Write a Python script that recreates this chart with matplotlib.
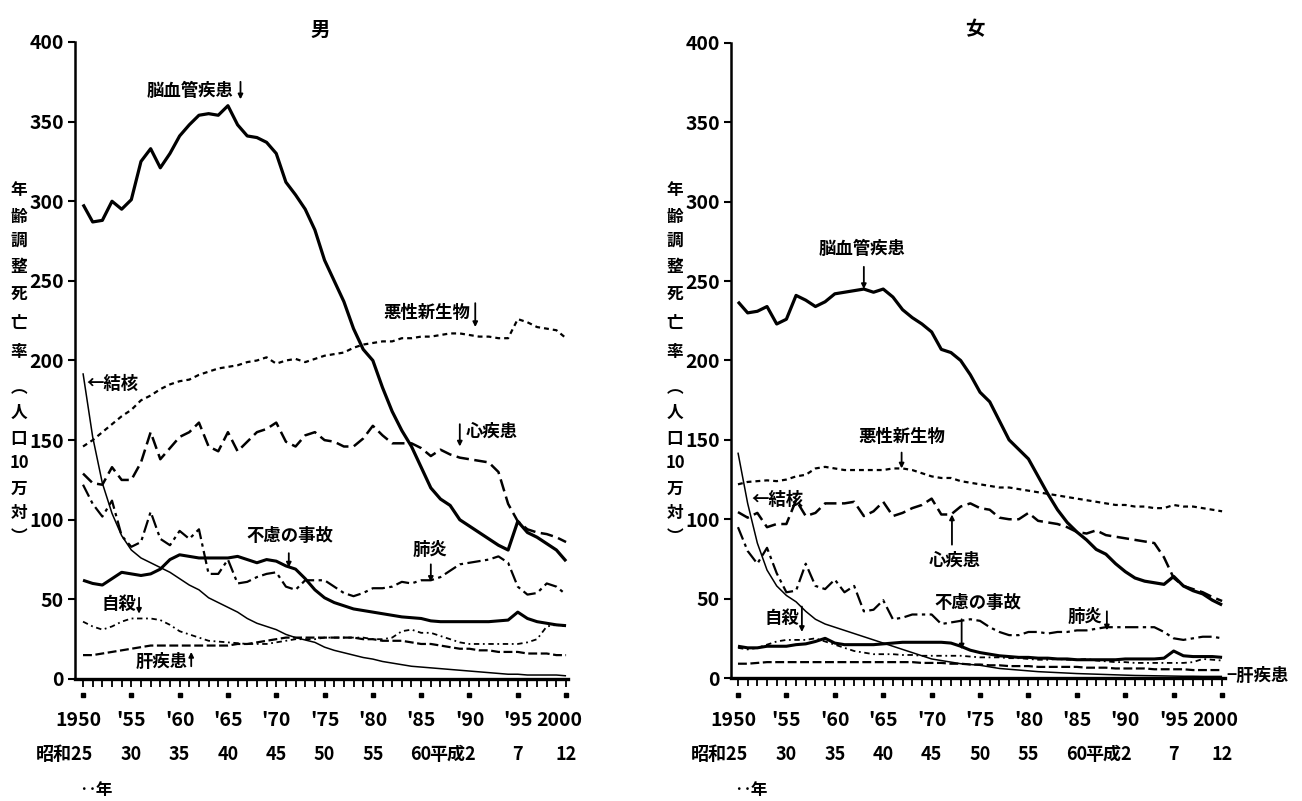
import matplotlib
matplotlib.use("Agg")
import matplotlib.pyplot as plt
import matplotlib.transforms as mtransforms

years = list(range(1950, 2001))

# ---------------- 男 (male) ----------------
male_cerebro = [298, 287, 288, 300, 295, 301, 325, 333, 321, 330,
                341, 348, 354, 355, 354, 360, 348, 341, 340, 337,
                330, 312, 304, 295, 282, 263, 250, 237, 220, 207,
                200, 183, 168, 156, 146, 133, 120, 113, 109, 100,
                96, 92, 88, 84, 81, 99, 92, 89, 85, 81,
                74]
male_neoplasm = [146, 150, 155, 160, 165, 169, 175, 178, 182, 185,
                 187, 188, 191, 193, 195, 196, 197, 199, 200, 202,
                 198, 200, 201, 199, 201, 203, 204, 205, 208, 210,
                 211, 212, 212, 214, 214, 215, 215, 216, 217, 217,
                 216, 215, 215, 214, 214, 226, 224, 221, 220, 219,
                 214]
male_heart = [129, 123, 122, 133, 125, 125, 136, 155, 138, 145,
              152, 155, 161, 146, 143, 155, 143, 149, 155, 157,
              161, 149, 146, 153, 155, 150, 149, 146, 146, 151,
              159, 153, 148, 148, 148, 145, 140, 144, 141, 139,
              138, 137, 136, 130, 110, 99, 94, 92, 91, 89,
              86]
male_tb = [192, 152, 123, 104, 90, 81, 76, 73, 70, 67,
           63, 59, 56, 51, 48, 45, 42, 38, 35, 33,
           31, 28, 26, 24.5, 23, 20, 18, 16.5, 15, 13.5,
           12.5, 11, 10, 9, 8, 7.5, 7, 6.5, 6, 5.5,
           5, 4.5, 4, 3.5, 3, 3, 2.5, 2.5, 2.5, 2.5,
           2]
male_pneumonia = [122, 110, 102, 112, 90, 83, 86, 105, 88, 84,
                  93, 88, 94, 66, 66, 75, 60, 61, 64, 66,
                  67, 58, 56, 62, 62, 62, 58, 54, 52, 54,
                  57, 57, 58, 61, 60, 62, 62, 64, 68, 72,
                  73, 74, 75, 77, 73, 58, 53, 54, 60, 58,
                  53]
male_accident = [62, 60, 59, 63, 67, 66, 65, 66, 69, 75,
                 78, 77, 76, 76, 76, 76, 77, 75, 73, 75,
                 74, 71, 69, 63, 56, 51, 48, 46, 44, 43,
                 42, 41, 40, 39, 38.5, 38, 36.5, 36, 36, 36,
                 36, 36, 36, 36.5, 37, 42, 38, 36, 35, 34,
                 33.5]
male_suicide = [36, 33, 31, 33, 36, 38, 38, 38, 37, 34,
                30, 28, 26, 24, 23.5, 23, 22.5, 22, 22, 22,
                23, 24, 25, 25, 25, 26, 26, 26, 26, 26,
                25, 25, 26, 30, 31, 29, 29, 27, 25, 23,
                22, 22, 22, 22, 22, 22, 23, 25, 33, 34,
                33]
male_liver = [15, 15, 16, 17, 18, 19, 20, 21, 21, 21,
              21, 21, 21, 21, 21, 21, 22, 22, 23, 24,
              25, 26, 26, 26, 26, 26, 26, 26, 26, 25,
              25, 24, 24, 24, 23, 22, 22, 21, 20, 19,
              19, 18, 18, 17, 17, 17, 16, 16, 16, 15,
              15]

# ---------------- 女 (female) ----------------
female_cerebro = [237, 230, 231, 234, 223, 226, 241, 238, 234, 237,
                  242, 243, 244, 245, 243, 245, 240, 232, 227, 223,
                  218, 207, 205, 200, 191, 180, 174, 162, 150, 144,
                  138, 127, 116, 106, 98, 92, 87, 81, 78, 72,
                  67, 63, 61, 60, 59, 64, 58, 55, 53, 49,
                  46]
female_neoplasm = [122, 123.5, 124, 124.5, 124, 125, 127, 128, 132, 133,
                   132, 131, 131, 131, 131, 131, 132, 132, 131, 129,
                   127, 126, 126, 124, 123, 122, 121, 120, 120, 119,
                   118, 117, 116, 115, 114, 113, 112, 111, 110, 109,
                   109, 108, 108, 107, 107, 109, 108, 108, 107, 106,
                   105]
female_heart = [104.5, 101, 104, 95, 97, 97, 112, 102, 104, 110,
                110, 110, 111, 102, 105, 111, 102, 104, 107, 109,
                113, 103, 103, 108, 110, 107, 106, 101, 100, 100,
                104, 99, 98, 97, 95, 92, 91, 93, 90, 89,
                88, 87, 86, 85, 76, 63, 58, 56, 54, 51,
                48.5]
female_tb = [142, 110, 85, 68, 58, 52, 48, 42, 37, 34,
             32, 30, 28, 26, 24, 22, 20, 18, 16, 14,
             12, 11, 10, 9, 8.5, 8, 7, 6, 5.5, 5,
             4.5, 4, 3.7, 3.4, 3.1, 2.8, 2.6, 2.4, 2.2, 2,
             1.8, 1.6, 1.5, 1.4, 1.3, 1.2, 1.1, 1.1, 1, 1,
             1]
female_pneumonia = [95, 80, 72, 82, 66, 54, 55, 72, 58, 56,
                    62, 54, 58, 42, 43, 49, 37, 38, 40, 40,
                    40, 34, 35, 36, 37, 36, 32, 29, 27, 27,
                    29, 29, 28, 29, 29, 30, 30, 31, 32, 32,
                    32, 32, 32, 32, 29, 25, 24, 25, 26, 26,
                    25]
female_accident = [20, 19, 19, 20, 20, 20, 21, 21.5, 23, 25,
                   22, 21, 21, 21, 21, 21.5, 22, 22.5, 22.5, 22.5,
                   22.5, 22.5, 22, 20, 17.5, 16, 15, 14, 13.5, 13,
                   13, 12.5, 12.5, 12, 12, 11.5, 11.5, 11.5, 11.5, 11.5,
                   12, 12, 12, 12, 12.5, 17, 14, 13.5, 13.5, 13.5,
                   13]
female_suicide = [19, 18, 19, 21, 23, 24, 24, 24, 25, 23,
                  21, 19, 17, 16, 15, 15, 15, 14.5, 14.5, 14,
                  14, 14, 14, 14, 13.5, 13, 13, 13, 12.5, 12.5,
                  12, 11.5, 11.5, 12, 11.5, 11.5, 12, 11, 10.5, 10,
                  10, 9.5, 9.5, 9.5, 9.5, 9.5, 9.5, 10, 12, 11.5,
                  11]
female_liver = [9, 9, 9.5, 10, 10, 10, 10, 10, 10, 10,
                10, 10, 10, 10, 10, 10, 10, 10, 10, 9.5,
                9.5, 9.5, 9, 9, 8.5, 8.5, 8, 8, 7.5, 7.5,
                7.5, 7, 7, 7, 7, 7, 6.5, 6.5, 6.5, 6,
                6, 6, 6, 5.5, 5.5, 5.5, 5.5, 5, 5, 5,
                5]

yticks = [0, 50, 100, 150, 200, 250, 300, 350, 400]
west_years = [1950, 1955, 1960, 1965, 1970, 1975, 1980, 1985, 1990, 1995, 2000]
west_labels = ["1950", "'55", "'60", "'65", "'70", "'75", "'80", "'85", "'90", "'95", "2000"]
era_labels = ["昭和25", "30", "35", "40", "45", "50", "55", "60", "平成2", "7", "12"]
ylabel_chars = ["年", "齢", "調", "整", "死", "亡", "率", "︵", "人", "口", "10", "万", "対", "︶"]

CJK = ['Noto Sans CJK JP', 'DejaVu Sans']
NUM = ['Liberation Sans Narrow', 'Noto Sans CJK JP', 'DejaVu Sans']

styles = {
    'cerebro': dict(lw=2.3, ls='-'),
    'neoplasm': dict(lw=1.6, ls=(0, (2.2, 1.8))),
    'heart': dict(lw=1.8, ls=(0, (5, 2.2))),
    'tb': dict(lw=1.1, ls='-'),
    'pneumonia': dict(lw=1.6, ls=(0, (6, 2, 1.5, 2))),
    'accident': dict(lw=2.2, ls='-'),
    'suicide': dict(lw=1.3, ls=(0, (3, 2, 1, 2))),
    'liver': dict(lw=1.6, ls=(0, (4, 1.6))),
}

W, H = 1302, 801
fig = plt.figure(figsize=(W / 100, H / 100), dpi=100)
fig.patch.set_facecolor('white')


def fy(py):
    return 1 - py / H


def draw_panel(rect, xlim, series, title, title_px, labels, arrows, ylabel_px):
    ax = fig.add_axes(rect)
    for key, vals in series.items():
        ax.plot(years, vals, color='black', solid_capstyle='butt',
                dash_capstyle='butt', clip_on=False, **styles[key])
    ax.set_xlim(*xlim)
    ax.set_ylim(0, 400)
    ax.spines['top'].set_visible(False)
    ax.spines['right'].set_visible(False)
    ax.spines['left'].set_linewidth(1.8)
    ax.spines['bottom'].set_linewidth(2.4)
    ax.set_yticks(yticks)
    ax.set_yticklabels([str(v) for v in yticks], fontfamily=NUM,
                       fontsize=14, fontweight='bold')
    ax.tick_params(axis='y', direction='out', length=5, width=1.5, pad=3)
    ax.set_xticks(west_years)
    ax.set_xticks(years, minor=True)
    ax.set_xticklabels([])
    ax.tick_params(axis='x', which='both', direction='out', length=6,
                   width=1.3)

    tr = mtransforms.blended_transform_factory(ax.transData, fig.transFigure)
    for yr, lab in zip(west_years, west_labels):
        x = yr
        if yr == 1950:
            x = 1949.5
        elif yr == 2000:
            x = 1999.3
        ax.text(x, fy(720), lab, transform=tr, ha='center', va='center',
                fontfamily=NUM, fontsize=14, fontweight='bold')
        ax.plot([yr], [fy(695)], transform=tr, marker='s', ms=2.2,
                color='black', clip_on=False)
    for yr, lab in zip(west_years, era_labels):
        if lab == "昭和25":
            ax.text(1951.1, fy(755), lab, transform=tr, ha='right',
                    va='center', fontfamily=CJK, fontsize=13,
                    fontweight='bold')
        elif lab == "平成2":
            ax.text(1990.7, fy(755), lab, transform=tr, ha='right',
                    va='center', fontfamily=CJK, fontsize=13,
                    fontweight='bold')
        else:
            ax.text(yr, fy(755), lab, transform=tr, ha='center',
                    va='center', fontfamily=CJK, fontsize=13,
                    fontweight='bold')
    ax.text(1949.6, fy(790), "‥年", transform=tr, ha='left', va='center',
            fontfamily=CJK, fontsize=12, fontweight='bold')

    fig.text(title_px[0] / W, fy(title_px[1]), title, ha='center',
             va='center', fontfamily=CJK, fontsize=14, fontweight='bold')

    ys = [190, 217, 241, 267, 295, 323, 352, 388, 413, 439, 463, 489, 513, 537]
    for ch, py in zip(ylabel_chars, ys):
        fig.text(ylabel_px / W, fy(py), ch, ha='center', va='center',
                 fontfamily=CJK, fontsize=12, fontweight='bold')

    for txt, x, y, ha in labels:
        ax.text(x, y, txt, ha=ha, va='center', fontfamily=CJK, fontsize=12.5,
                fontweight='bold', clip_on=False)
    for (x0, y0, x1, y1) in arrows:
        ax.annotate("", xy=(x1, y1), xytext=(x0, y0),
                    arrowprops=dict(arrowstyle='-|>', lw=1.3, color='black',
                                    mutation_scale=7, shrinkA=0, shrinkB=0))
    return ax


male_series = {
    'cerebro': male_cerebro, 'neoplasm': male_neoplasm, 'heart': male_heart,
    'tb': male_tb, 'pneumonia': male_pneumonia, 'accident': male_accident,
    'suicide': male_suicide, 'liver': male_liver,
}
female_series = {
    'cerebro': female_cerebro, 'neoplasm': female_neoplasm,
    'heart': female_heart, 'tb': female_tb, 'pneumonia': female_pneumonia,
    'accident': female_accident, 'suicide': female_suicide,
    'liver': female_liver,
}

male_labels = [
    ("脳血管疾患", 1961.1, 369, 'center'),
    ("悪性新生物", 1985.6, 230, 'center'),
    ("←結核", 1950.4, 185, 'left'),
    ("心疾患", 1992.3, 155, 'center'),
    ("不慮の事故", 1971.4, 90, 'center'),
    ("肺炎", 1985.9, 81, 'center'),
    ("自殺", 1953.7, 47, 'center'),
    ("肝疾患", 1958.1, 11, 'center'),
]
male_arrows = [
    (1966.3, 375, 1966.3, 364),
    (1990.6, 236, 1990.6, 221),
    (1989.0, 160, 1989.0, 146),
    (1971.3, 79, 1971.3, 70),
    (1986.0, 72, 1986.0, 61),
    (1955.8, 51, 1955.8, 41),
    (1961.2, 8, 1961.2, 17),
]
female_labels = [
    ("脳血管疾患", 1962.8, 270, 'center'),
    ("悪性新生物", 1966.9, 152, 'center'),
    ("←結核", 1951.4, 112, 'left'),
    ("心疾患", 1972.4, 74, 'center'),
    ("不慮の事故", 1974.8, 47, 'center'),
    ("肺炎", 1985.8, 38.5, 'center'),
    ("自殺", 1954.5, 38, 'center'),
    ("−肝疾患", 2000.4, 1.3, 'left'),
]
female_arrows = [
    (1963.0, 259, 1963.0, 245),
    (1966.9, 142, 1966.9, 132),
    (1972.1, 84, 1972.1, 103),
    (1973.1, 37, 1973.1, 18),
    (1988.1, 42, 1988.1, 30),
    (1956.6, 45, 1956.6, 29),
]

draw_panel([75 / W, fy(679), 493 / W, 637 / H], (1949.17, 2000.2),
           male_series, "男", (320, 30), male_labels, male_arrows, 19)
draw_panel([731 / W, fy(678), 494 / W, 635 / H], (1949.28, 2000.3),
           female_series, "女", (975, 30), female_labels, female_arrows, 675)

fig.savefig("out.png", dpi=100, facecolor='white')
